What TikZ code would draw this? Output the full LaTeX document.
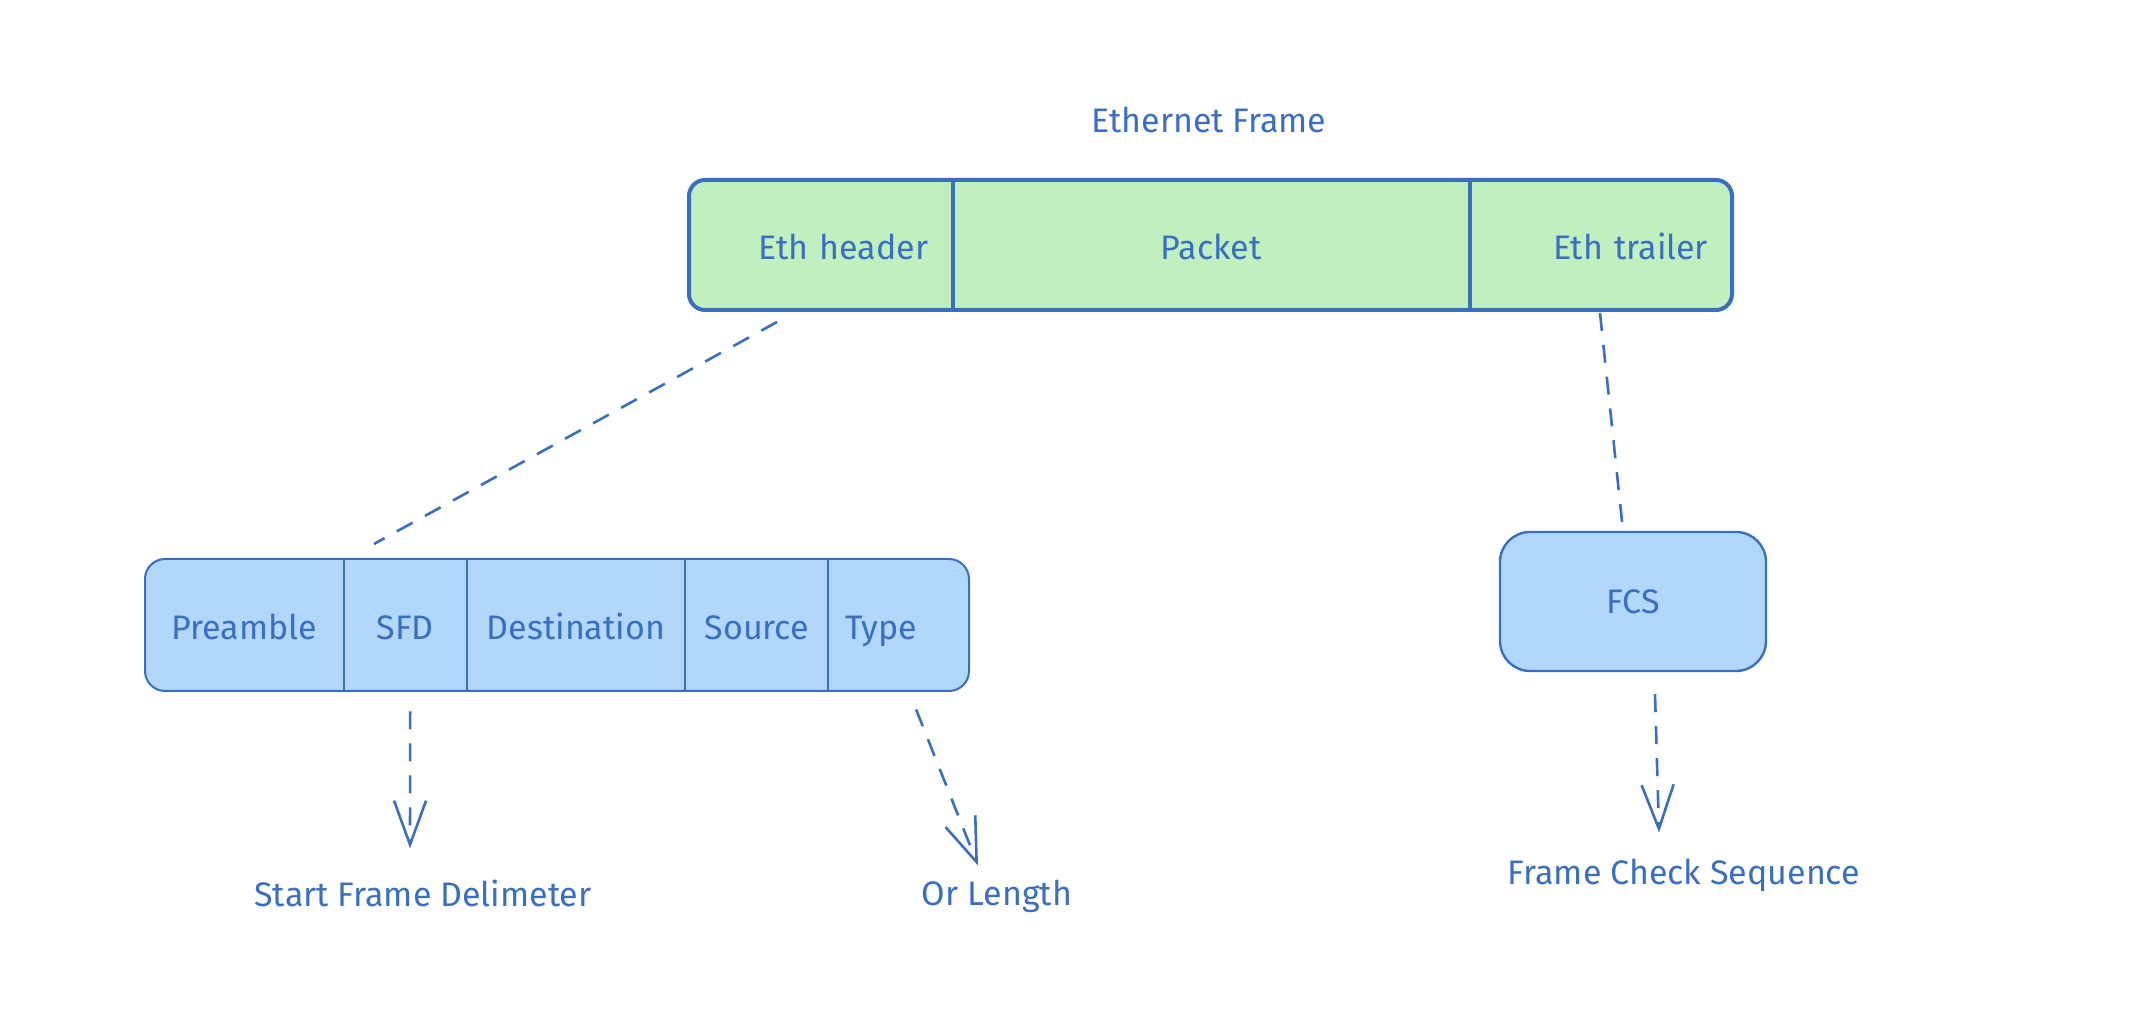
\documentclass[tikz,border=0pt]{standalone}
\usepackage{fontspec}
\setmainfont{Fira Sans}
\usetikzlibrary{arrows.meta,positioning}
\definecolor{inkblue}{HTML}{3A6EBF}
\definecolor{framegreen}{HTML}{C0F0C0}
\definecolor{fieldblue}{HTML}{B1D8FA}

\begin{document}
\begin{tikzpicture}[
  x=0.5pt, y=-0.5pt,
  font=\fontsize{17}{21}\selectfont, text=inkblue,
  ethframe/.style={draw=inkblue, line width=2pt, rounded corners=8pt, fill=framegreen, minimum height=65pt, inner sep=0pt},
  fieldrow/.style={draw=inkblue, line width=1pt, rounded corners=10pt, fill=fieldblue, minimum height=66pt, inner sep=0pt},
  cell/.style={minimum height=65pt, inner sep=0pt, text height=16.5pt, text depth=1.5pt},
  divider/.style={draw=inkblue, line width=1pt},
  link/.style={draw=inkblue, line width=1.3pt, dash pattern=on 9pt off 7pt},
  pointer/.style={link, -{Straight Barb[length=22pt, width=16pt]}},
  node distance=0pt
]
\useasboundingbox (0,0) rectangle (2138,1020);

\node (title) at (1209,120) {Ethernet Frame};
\node[ethframe, minimum width=521.5pt] (frame) at (1210.5,245) {};
\node[cell, minimum width=132.5pt, text width=108.5pt, inner xsep=12pt, align=right, anchor=west] (hdr) at (frame.west) {Eth header};
\node[cell, minimum width=258pt, right=of hdr] (pkt) {Packet};
\node[cell, minimum width=131pt, text width=107pt, inner xsep=12pt, align=right, right=of pkt] (trl) {Eth trailer};
\draw[divider, line width=2pt] (hdr.north east) -- (hdr.south east);
\draw[divider, line width=2pt] (pkt.north east) -- (pkt.south east);

\node[fieldrow, minimum width=412pt] (fields) at (557,625) {};
\node[cell, minimum width=99.5pt, anchor=west] (pre) at (fields.west) {Preamble};
\node[cell, minimum width=61pt, right=of pre] (sfd) {SFD};
\node[cell, minimum width=109pt, right=of sfd] (dst) {Destination};
\node[cell, minimum width=71pt, right=of dst] (src) {Source};
\node[cell, minimum width=71.5pt, text width=55pt, inner xsep=8.5pt, align=left, right=of src] (typ) {Type};
\foreach \f in {pre,sfd,dst,src}
  \draw[divider] (\f.north east) -- (\f.south east);

\node[fieldrow, rounded corners=15pt, line width=1.2pt, minimum width=133pt, minimum height=69.5pt] (fcs) at (1633,601.5) {FCS};

\node (sfdnote) at (423,893) {Start Frame Delimeter};
\node (lennote) at (997,896) {Or Length};
\node (fcsnote) at (1684,875) {Frame Check Sequence};

\draw[link] ([xshift=45pt,yshift=-5pt]frame.south west) -- ([xshift=115pt,yshift=7pt]fields.north west);
\draw[link] ([xshift=-67pt,yshift=-0.5pt]frame.south east) -- ([xshift=-5pt]fcs.north);
\draw[pointer] ([xshift=2.5pt,yshift=-10.5pt]sfd.south) -- ([xshift=-6.5pt,yshift=12pt]sfdnote.north);
\draw[pointer] ([xshift=7.75pt,yshift=-9.5pt]typ.south) -- ([xshift=-9.5pt,yshift=3.5pt]lennote.north);
\draw[pointer] ([xshift=11pt,yshift=-11pt]fcs.south) -- ([xshift=-12.5pt,yshift=9.5pt]fcsnote.north);
\end{tikzpicture}
\end{document}
